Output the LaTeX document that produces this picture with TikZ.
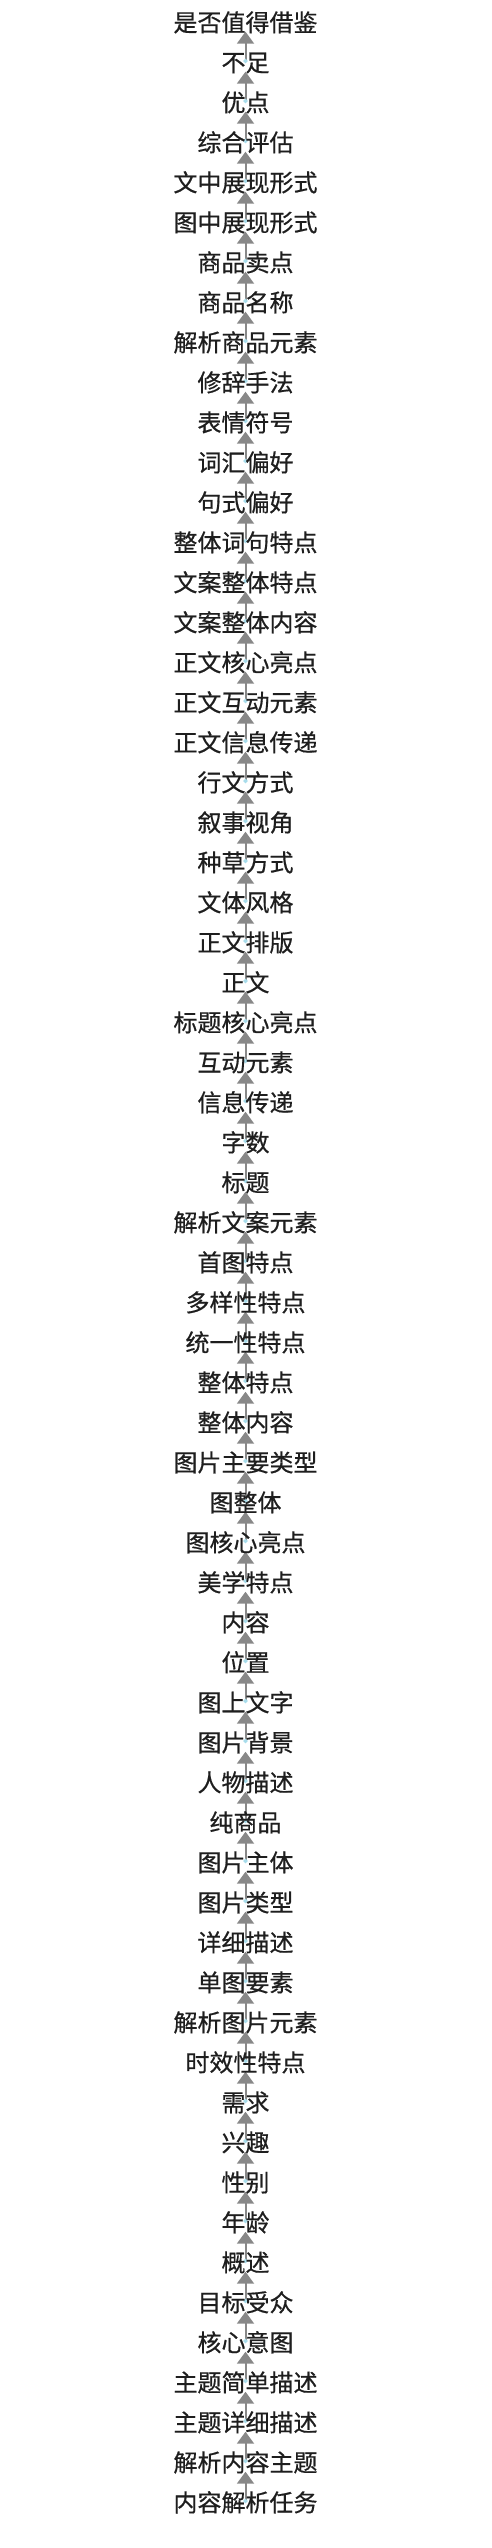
\documentclass[tikz,border=0pt]{standalone}
\usepackage{fontspec}
\newfontfamily\cjk[FakeBold=0.6]{Noto Sans CJK SC}
\usetikzlibrary{arrows.meta,backgrounds}
\definecolor{linegray}{HTML}{888888}
\definecolor{dotblue}{HTML}{A8DCEB}
\definecolor{txt}{HTML}{1E1E1E}
\tikzset{
  lbl/.style={font=\cjk\fontsize{24}{28}\selectfont, text=txt, inner sep=0pt,
    text height=17pt, text depth=0pt},
  conn/.style={draw=linegray, line width=2pt,
    arrows={Circle[color=dotblue,length=4pt,width=4pt]-Triangle[length=12pt,width=17pt]}}
}
\begin{document}
\begin{tikzpicture}[x=1pt,y=1pt]
\useasboundingbox (0,0) rectangle (491,-2548);
\foreach \t [count=\i] in {是否值得借鉴,不足,优点,综合评估,文中展现形式,图中展现形式,商品卖点,商品名称,解析商品元素,修辞手法,表情符号,词汇偏好,句式偏好,整体词句特点,文案整体特点,文案整体内容,正文核心亮点,正文互动元素,正文信息传递,行文方式,叙事视角,种草方式,文体风格,正文排版,正文,标题核心亮点,互动元素,信息传递,字数,标题,解析文案元素,首图特点,多样性特点,统一性特点,整体特点,整体内容,图片主要类型,图整体,图核心亮点,美学特点,内容,位置,图上文字,图片背景,人物描述,纯商品,图片主体,图片类型,详细描述,单图要素,解析图片元素,时效性特点,需求,兴趣,性别,年龄,概述,目标受众,核心意图,主题简单描述,主题详细描述,解析内容主题,内容解析任务}
  {\node[lbl] (n\i) at (245.5,{-23-40*(\i-1)}) {\t};}
\begin{scope}[on background layer]
\foreach \i [evaluate=\i as \j using int(\i+1)] in {1,...,62}
  {\draw[conn] (n\j.center) -- (n\i.south);}
\end{scope}
\end{tikzpicture}
\end{document}
